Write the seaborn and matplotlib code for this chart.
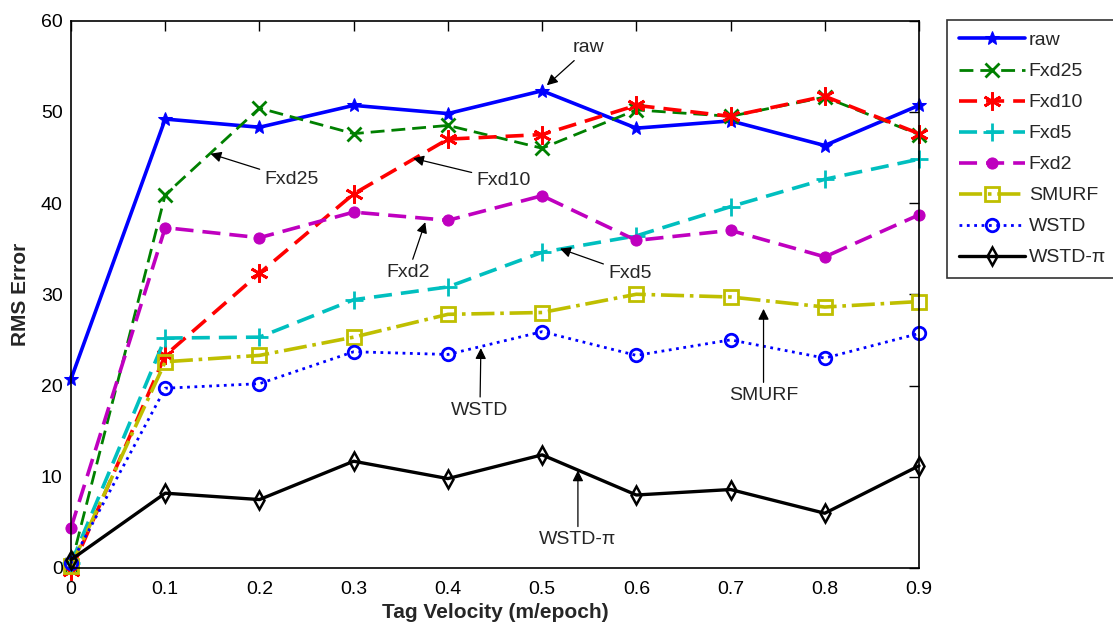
import numpy as np
import pandas as pd
import matplotlib
matplotlib.use("Agg")
import matplotlib.pyplot as plt
import seaborn as sns

velocity = [0.0, 0.1, 0.2, 0.3, 0.4, 0.5, 0.6, 0.7, 0.8, 0.9]
raw = [20.7, 49.2, 48.3, 50.7, 49.8, 52.3, 48.2, 49.0, 46.3, 50.7]
fxd25 = [0.3, 40.9, 50.4, 47.6, 48.5, 46.0, 50.2, 49.5, 51.6, 47.5]
fxd10 = [-0.3, 23.3, 32.3, 41.0, 47.0, 47.5, 50.7, 49.5, 51.7, 47.6]
fxd5 = [0.5, 25.2, 25.3, 29.4, 30.8, 34.6, 36.4, 39.6, 42.6, 44.8]
fxd2 = [4.4, 37.3, 36.2, 39.0, 38.1, 40.8, 35.9, 37.0, 34.1, 38.7]
smurf = [0.2, 22.6, 23.3, 25.3, 27.8, 28.0, 30.0, 29.7, 28.6, 29.2]
wstd = [0.5, 19.7, 20.2, 23.7, 23.4, 25.9, 23.3, 25.0, 23.0, 25.7]
wstd_pi = [0.9, 8.2, 7.5, 11.7, 9.8, 12.4, 8.0, 8.6, 6.0, 11.2]

series_names = ["raw", "Fxd25", "Fxd10", "Fxd5", "Fxd2", "SMURF", "WSTD", "WSTD-\u03c0"]
series_values = [raw, fxd25, fxd10, fxd5, fxd2, smurf, wstd, wstd_pi]

annotations = [
    ("raw", (0.505, 52.9), (0.549, 57.0)),
    ("Fxd25", (0.148, 45.4), (0.234, 42.6)),
    ("Fxd10", (0.363, 44.9), (0.459, 42.5)),
    ("Fxd2", (0.376, 37.9), (0.358, 32.4)),
    ("Fxd5", (0.519, 35.0), (0.593, 32.3)),
    ("WSTD", (0.435, 24.1), (0.434, 17.3)),
    ("SMURF", (0.735, 28.4), (0.735, 18.9)),
    ("WSTD-\u03c0", (0.538, 10.7), (0.538, 3.1)),
]

sns.set_theme(style="white")
plt.rcParams["font.family"] = ["Liberation Sans", "DejaVu Sans"]

styles = {
    "raw": dict(color=(0, 0, 1), ls="-", marker="*", ms=10, mfc=(0, 0, 1), mec=(0, 0, 1), lw=2.6),
    "Fxd25": dict(color=(0, 0.5, 0), ls=(0, (5, 2.5)), marker="x", ms=10, mec=(0, 0.5, 0), mew=2, lw=2.0),
    "Fxd10": dict(color=(1, 0, 0), ls=(0, (5, 2.5)), marker=(6, 2, 0), ms=13, mec=(1, 0, 0), mew=2, lw=2.6),
    "Fxd5": dict(color=(0, 0.75, 0.75), ls=(0, (5, 2.5)), marker="+", ms=13, mec=(0, 0.75, 0.75), mew=2, lw=2.6),
    "Fxd2": dict(color=(0.75, 0, 0.75), ls=(0, (5, 2.5)), marker="o", ms=8, mfc=(0.75, 0, 0.75), mec=(0.75, 0, 0.75), lw=2.6),
    "SMURF": dict(color=(0.75, 0.75, 0), ls="-.", marker="s", ms=10, mfc="none", mec=(0.75, 0.75, 0), mew=2, lw=2.6),
    "WSTD": dict(color=(0, 0, 1), ls=":", marker="o", ms=9, mfc="none", mec=(0, 0, 1), mew=2, lw=2.0),
    "WSTD-\u03c0": dict(color=(0, 0, 0), ls="-", marker="d", ms=9, mfc="none", mec=(0, 0, 0), mew=1.8, lw=2.4),
}

fig = plt.figure(figsize=(11.13, 6.31), dpi=100)
ax = fig.add_axes([71 / 1113, 1 - 568 / 631, (919 - 71) / 1113, (568 - 20.5) / 631])

for name, vals in zip(series_names, series_values):
    st = dict(styles[name])
    color = st.pop("color")
    ls = st.pop("ls")
    lw = st.pop("lw")
    df = pd.DataFrame({"v": velocity, "e": vals})
    sns.lineplot(data=df, x="v", y="e", ax=ax, color=color, linestyle=ls, linewidth=lw,
                 label=name, clip_on=False, **st)

ax.set_xlim(0, 0.9)
ax.set_ylim(0, 60)
ax.set_xticks(velocity)
ax.set_xticklabels([("0" if v == 0 else f"{v:.1f}") for v in velocity])
ax.set_yticks([0, 10, 20, 30, 40, 50, 60])
ax.tick_params(direction="in", length=7, width=1, top=True, right=True, labelsize=14,
               colors="black")
ax.tick_params(axis="x", pad=9)
ax.tick_params(axis="y", pad=6)
for s in ax.spines.values():
    s.set_color("black")
    s.set_linewidth(1.2)
ax.set_xlabel("Tag Velocity (m/epoch)", fontsize=15, fontweight="bold", labelpad=4)
ax.set_ylabel("RMS Error", fontsize=15, fontweight="bold", labelpad=8)

for text, tip, pos in annotations:
    ax.annotate(text, xy=tip, xytext=pos, ha="center", va="center", fontsize=14,
                arrowprops=dict(arrowstyle="-|>", color="black", lw=0.9, mutation_scale=16,
                                shrinkA=1, shrinkB=0))

leg = ax.legend(loc="upper left", bbox_to_anchor=(947 / 1113, 1 - 20 / 631),
                bbox_transform=fig.transFigure, borderaxespad=0, fontsize=14,
                frameon=True, fancybox=False, edgecolor="black", handlelength=3.4,
                labelspacing=0.69, borderpad=0.6, handletextpad=0.2)
leg.get_frame().set_linewidth(1.2)

fig.savefig("out.png", dpi=100)
